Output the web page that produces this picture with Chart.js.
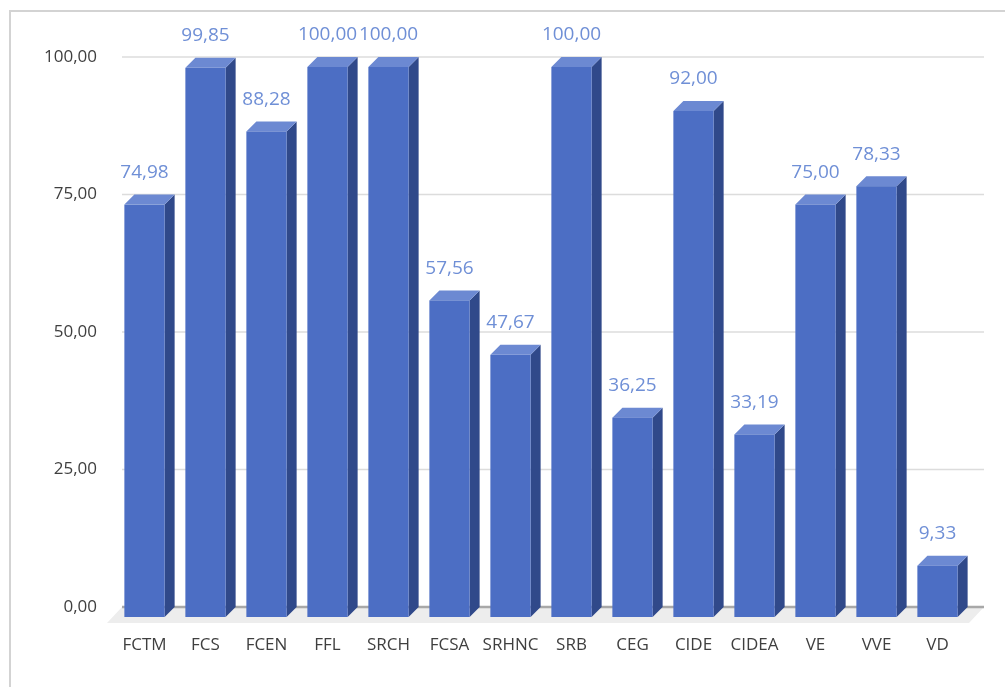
<!DOCTYPE html>
<html lang="es">
  <head>
    <meta charset="UTF-8" />
    <title>Chart</title>
    <script src="https://cdn.jsdelivr.net/npm/chart.js@4/dist/chart.umd.min.js"></script>
    <style>
      html, body { margin: 0; padding: 0; background: #fff; }
      #wrap { position: relative; width: 1005px; height: 687px; overflow: hidden; }
      #frame {
        position: absolute; left: 9px; top: 10px; width: 1020px; height: 700px;
        border-left: 2px solid #d3d3d3; border-top: 2px solid #d3d3d3;
      }
      canvas { position: absolute; left: 0; top: 0; }
    </style>
  </head>
  <body>
    <div id="wrap">
      <div id="frame"></div>
      <canvas id="grafico" width="1005" height="687"></canvas>
    </div>
    <script>
      const categorias = ["FCTM", "FCS", "FCEN", "FFL", "SRCH", "FCSA", "SRHNC", "SRB", "CEG", "CIDE", "CIDEA", "VE", "VVE", "VD"];
      const valores = [74.98, 99.85, 88.28, 100.0, 100.0, 57.56, 47.67, 100.0, 36.25, 92.0, 33.19, 75.0, 78.33, 9.33];
      const ticksY = [0, 25, 50, 75, 100];

      const DEPTH = 10;
      const fmt = (v) => v.toFixed(2).replace(".", ",");

      // floor + back wall grid lines
      const fondo = {
        id: "fondo",
        beforeDraw(chart) {
          const c = chart.ctx, a = chart.chartArea, y = chart.scales.y;
          const y0 = y.getPixelForValue(0);
          c.save();
          c.fillStyle = "#ededed";
          c.beginPath();
          c.moveTo(a.left - 2, y0);
          c.lineTo(a.right + 6, y0);
          c.lineTo(a.right - 9, y0 + 16);
          c.lineTo(a.left - 17, y0 + 16);
          c.closePath();
          c.fill();
          ticksY.forEach((t) => {
            const py = y.getPixelForValue(t);
            c.strokeStyle = t === 0 ? "#a8a8a8" : "#dcdcdc";
            c.lineWidth = t === 0 ? 2.5 : 1.5;
            c.beginPath();
            c.moveTo(a.left - 2, py);
            c.lineTo(a.right + 6, py);
            c.stroke();
          });
          c.restore();
        },
      };

      // 3d boxes and value labels
      const barras3d = {
        id: "barras3d",
        afterDatasetsDraw(chart) {
          const c = chart.ctx;
          const meta = chart.getDatasetMeta(0);
          c.save();
          meta.data.forEach((el, i) => {
            const w = el.width;
            const fx = el.x - w / 2 - DEPTH;
            const ft = el.y + DEPTH;
            const fb = el.base + DEPTH;
            // side
            c.fillStyle = "#30498a";
            c.beginPath();
            c.moveTo(fx + w, ft);
            c.lineTo(fx + w + DEPTH, ft - DEPTH);
            c.lineTo(fx + w + DEPTH, fb - DEPTH);
            c.lineTo(fx + w, fb);
            c.closePath();
            c.fill();
            // top
            c.fillStyle = "#6c89d2";
            c.beginPath();
            c.moveTo(fx, ft);
            c.lineTo(fx + DEPTH, ft - DEPTH);
            c.lineTo(fx + w + DEPTH, ft - DEPTH);
            c.lineTo(fx + w, ft);
            c.closePath();
            c.fill();
            // front
            c.fillStyle = "#4c6ec4";
            c.fillRect(fx, ft, w, fb - ft);
            // label
            c.fillStyle = "#6f8fd6";
            c.font = "19px 'Open Sans'";
            c.textAlign = "center";
            c.textBaseline = "middle";
            c.fillText(fmt(valores[i]), fx + w / 2, ft - 32);
          });
          c.restore();
        },
      };

      new Chart(document.getElementById("grafico"), {
        type: "bar",
        data: {
          labels: categorias,
          datasets: [
            {
              data: valores,
              backgroundColor: "rgba(0,0,0,0)",
              borderWidth: 0,
              barPercentage: 0.66,
              categoryPercentage: 1,
            },
          ],
        },
        options: {
          responsive: false,
          animation: false,
          events: [],
          layout: { padding: { left: 0, top: 57, right: 27, bottom: 0 } },
          plugins: { legend: { display: false }, tooltip: { enabled: false } },
          scales: {
            x: {
              afterFit: (s) => { s.height = 80; },
              grid: { display: false, drawTicks: false },
              border: { display: false },
              ticks: {
                color: "#3f3f3f",
                font: { family: "'Open Sans'", size: 17 },
                padding: 28,
                labelOffset: -DEPTH,
                maxRotation: 0,
                autoSkip: false,
              },
            },
            y: {
              min: 0,
              max: 100,
              afterFit: (s) => { s.width = 124; },
              afterBuildTicks: (s) => { s.ticks = ticksY.map((v) => ({ value: v })); },
              grid: { display: false, drawTicks: false },
              border: { display: false },
              ticks: {
                color: "#3f3f3f",
                font: { family: "'Open Sans'", size: 17 },
                padding: 27,
                callback: (v) => fmt(v),
              },
            },
          },
        },
        plugins: [fondo, barras3d],
      });
    </script>
  </body>
</html>
